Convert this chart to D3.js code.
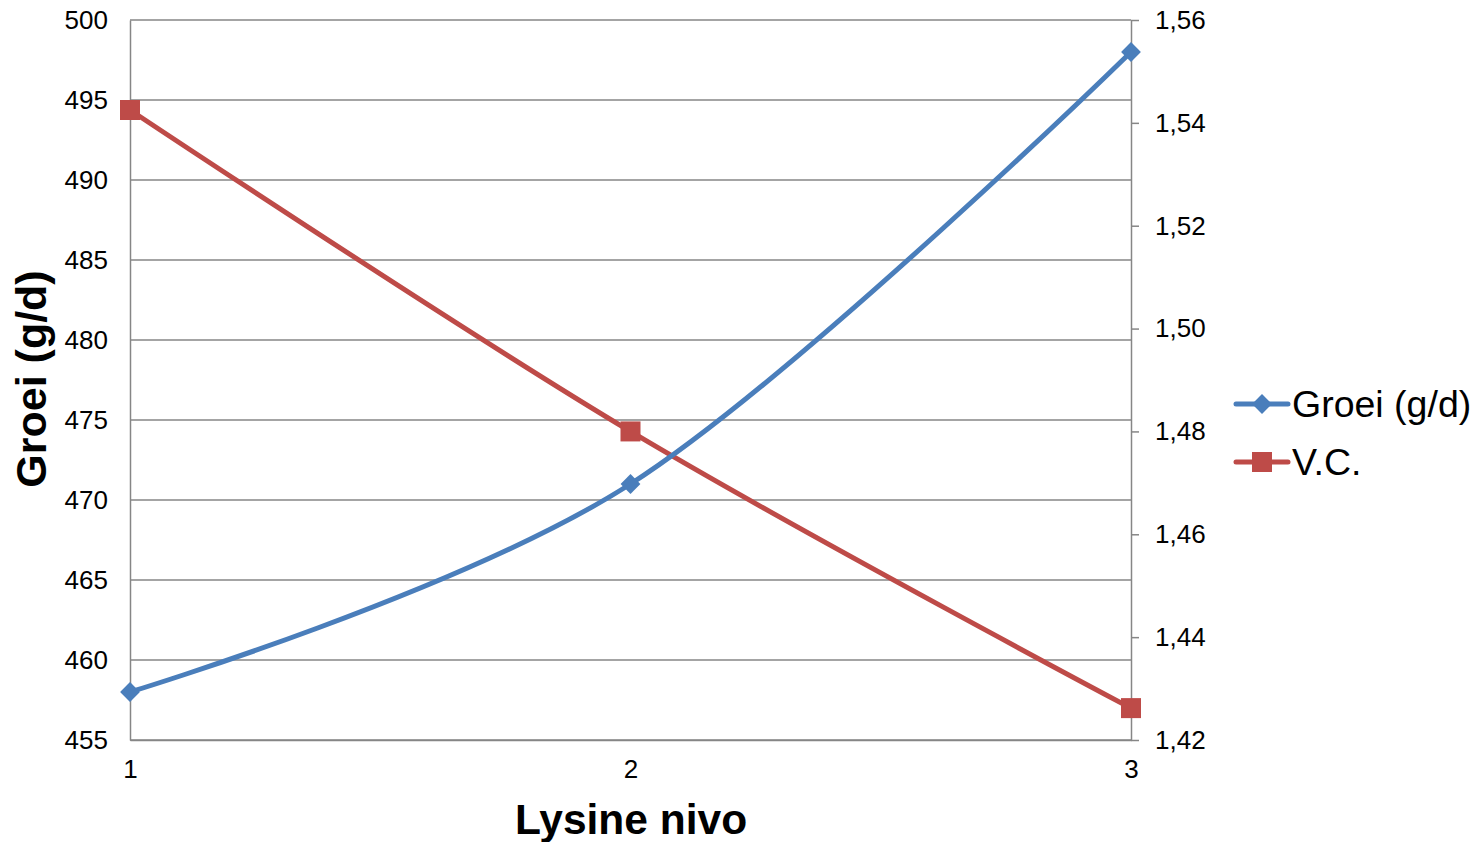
<!DOCTYPE html>
<html>
<head>
<meta charset="utf-8">
<script src="https://cdn.jsdelivr.net/npm/d3@7"></script>
<style>
  body { margin: 0; background: #fff; }
  text { font-family: "Liberation Sans", Arial, sans-serif; fill: #000; }
</style>
</head>
<body>
<div id="chart"></div>
<script>
var levels = [1, 2, 3];
var groei = [458, 471, 498];
var vc = [1.5425, 1.48, 1.4262];
var leftTicks = [455, 460, 465, 470, 475, 480, 485, 490, 495, 500];
var rightTicks = [1.42, 1.44, 1.46, 1.48, 1.50, 1.52, 1.54, 1.56];
var seriesNames = ['Groei (g/d)', 'V.C.'];

var blue = '#4a7ebb', red = '#be4b48', grid = '#868686';

var svg = d3.select('#chart')
    .append('svg')
    .attr('width', 1481)
    .attr('height', 842);

var x = d3.scalePoint().domain(levels).range([130, 1131]);
var yL = d3.scaleLinear().domain([455, 500]).range([740, 20]);
var yR = d3.scaleLinear().domain([1.42, 1.56]).range([740, 20]);

// grid lines
svg.append('g')
    .selectAll('line')
    .data(leftTicks)
    .enter()
    .append('line')
    .attr('x1', 130).attr('x2', 1131)
    .attr('y1', d => yL(d)).attr('y2', d => yL(d))
    .style('stroke', grid)
    .style('stroke-width', 1.5);

// left axis
var left = svg.append('g')
    .attr('transform', 'translate(130,0)')
    .call(d3.axisLeft(yL).tickValues(leftTicks).tickSize(0).tickPadding(22));
left.select('.domain').style('stroke', grid).style('stroke-width', 1.5);
left.selectAll('text').style('font-size', '26px');

// right axis
var right = svg.append('g')
    .attr('transform', 'translate(1131,0)')
    .call(d3.axisRight(yR).tickValues(rightTicks).tickSize(8).tickSizeOuter(0).tickPadding(16)
        .tickFormat(d => d3.format('.2f')(d).replace('.', ',')));
right.select('.domain').style('stroke', grid).style('stroke-width', 1.5);
right.selectAll('line').style('stroke', grid).style('stroke-width', 1.5);
right.selectAll('text').style('font-size', '26px');

// bottom axis
var bottom = svg.append('g')
    .attr('transform', 'translate(0,740)')
    .call(d3.axisBottom(x).tickSize(0).tickPadding(20));
bottom.select('.domain').style('stroke', grid).style('stroke-width', 1.5);
bottom.selectAll('text').style('font-size', '26px');

// axis titles
svg.append('text')
    .text('Lysine nivo')
    .attr('x', 631).attr('y', 834)
    .style('font-size', '42.5px')
    .style('font-weight', 'bold')
    .style('text-anchor', 'middle');

svg.append('text')
    .text('Groei (g/d)')
    .attr('transform', 'translate(46,379) rotate(-90)')
    .style('font-size', '43px')
    .style('font-weight', 'bold')
    .style('text-anchor', 'middle');

var curve = d3.curveCatmullRom.alpha(0);

var lineL = d3.line().x((d, i) => x(levels[i])).y(d => yL(d)).curve(curve);
var lineR = d3.line().x((d, i) => x(levels[i])).y(d => yR(d)).curve(curve);

svg.append('path')
    .attr('d', lineR(vc))
    .style('fill', 'none')
    .style('stroke', red)
    .style('stroke-width', 5);

svg.append('path')
    .attr('d', lineL(groei))
    .style('fill', 'none')
    .style('stroke', blue)
    .style('stroke-width', 5);

svg.append('g')
    .selectAll('rect')
    .data(vc)
    .enter()
    .append('rect')
    .attr('x', (d, i) => x(levels[i]) - 10)
    .attr('y', d => yR(d) - 10)
    .attr('width', 20).attr('height', 20)
    .style('fill', red);

var diamond = d3.symbol().type(d3.symbolDiamond2).size(250);
svg.append('g')
    .selectAll('path')
    .data(groei)
    .enter()
    .append('path')
    .attr('d', diamond)
    .attr('transform', (d, i) => 'translate(' + x(levels[i]) + ',' + yL(d) + ')')
    .style('fill', blue);

// legend
var legend = svg.append('g');
var rows = [
    { name: seriesNames[0], color: blue, y: 404, mark: 'diamond' },
    { name: seriesNames[1], color: red, y: 462, mark: 'square' }
];
rows.forEach(function(r) {
    legend.append('line')
        .attr('x1', 1236).attr('x2', 1288)
        .attr('y1', r.y).attr('y2', r.y)
        .style('stroke', r.color)
        .style('stroke-width', 5)
        .style('stroke-linecap', 'round');
    if (r.mark === 'square') {
        legend.append('rect')
            .attr('x', 1252).attr('y', r.y - 10)
            .attr('width', 20).attr('height', 20)
            .style('fill', r.color);
    } else {
        legend.append('path')
            .attr('d', diamond)
            .attr('transform', 'translate(1262,' + r.y + ')')
            .style('fill', r.color);
    }
    legend.append('text')
        .text(r.name)
        .attr('x', 1292).attr('y', r.y + 13)
        .style('font-size', '37.5px');
});
</script>
</body>
</html>
